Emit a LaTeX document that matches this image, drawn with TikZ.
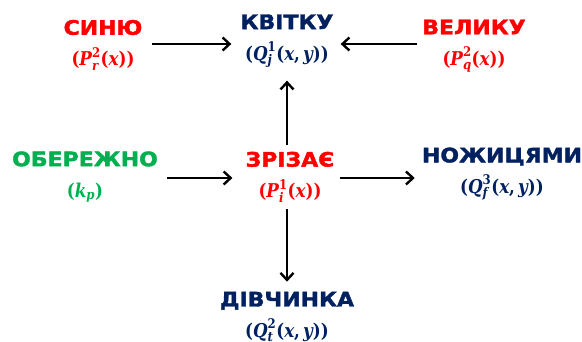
\documentclass[tikz,border=0pt]{standalone}
\usepackage{amsmath}
\usepackage[no-math]{fontspec}
\newfontfamily\wordfont[FakeStretch=1.1, BoldFeatures={FakeBold=1.8}]{DejaVu Sans}
\newfontfamily\mathserif[FakeStretch=0.88]{DejaVu Serif}
\usetikzlibrary{arrows.meta}
\definecolor{navy}{HTML}{002060}
\definecolor{gr}{HTML}{00B050}
\definecolor{rd}{HTML}{FF0000}
\newcommand{\myword}[1]{{\fontsize{20}{30}\selectfont\wordfont\bfseries #1}}
\newcommand{\mi}[1]{\text{\mathserif\bfseries\itshape #1}}
\newcommand{\mn}[1]{\text{\mathserif\bfseries #1}}
\newcommand{\myfm}[1]{{\fontsize{19}{20}\selectfont$#1$}}
\tikzset{
  lbl/.style={align=center, inner sep=7pt, font=\fontsize{20}{31}\selectfont},
  arr/.style={-{Straight Barb[length=7pt,width=13pt,line width=2.4pt]}, line width=2.7pt, black}
}
\begin{document}
\begin{tikzpicture}[x=1pt,y=-1pt]
\useasboundingbox (0,0) rectangle (582,342);
\node[lbl, text=rd] (sinyu) at (103,45) {\myword{СИНЮ}\\\myfm{\mn{(}\mi{P}^{\mn{2}}_{\mi{r}}\mn{(}\mi{x}\mn{))}}};
\node[lbl, text=navy] (kvitku) at (287,41) {\myword{КВІТКУ}\\\myfm{\mn{(}\mi{Q}^{\mn{1}}_{\mi{j}}\mn{(}\mi{x}\mn{,\,}\mi{y}\mn{))}}};
\node[lbl, text=rd] (velyku) at (474,46) {\myword{ВЕЛИКУ}\\\myfm{\mn{(}\mi{P}^{\mn{2}}_{\mi{q}}\mn{(}\mi{x}\mn{))}}};
\node[lbl, text=gr] (oberezhno) at (85,177) {\myword{ОБЕРЕЖНО}\\\myfm{\mn{(}\mi{k}_{\mi{p}}\mn{)}}};
\node[lbl, text=rd] (zrizaie) at (290,177) {\myword{ЗРІЗАЄ}\\\myfm{\mn{(}\mi{P}^{\mn{1}}_{\mi{i}}\mn{(}\mi{x}\mn{))}}};
\node[lbl, text=navy] (nozhytsiamy) at (502,174) {\myword{НОЖИЦЯМИ}\\\myfm{\mn{(}\mi{Q}^{\mn{3}}_{\mi{f}}\mn{(}\mi{x}\mn{,\,}\mi{y}\mn{))}}};
\node[lbl, text=navy] (divchynka) at (287,317) {\myword{ДІВЧИНКА}\\\myfm{\mn{(}\mi{Q}^{\mn{2}}_{\mi{t}}\mn{(}\mi{x}\mn{,\,}\mi{y}\mn{))}}};
\draw[arr, shorten <=2pt, shorten >=2pt] (sinyu.east |- 0,44) -- (kvitku.west |- 0,44);
\draw[arr, shorten <=-2pt] (velyku.west |- 0,44) -- (kvitku.east |- 0,44);
\draw[arr, shorten >=6pt] (zrizaie.north -| kvitku.south) -- (kvitku.south);
\draw[arr, shorten <=2pt, shorten >=6pt] (oberezhno.east |- 0,178) -- (zrizaie.west |- 0,178);
\draw[arr, shorten <=-2pt, shorten >=0pt] (zrizaie.east |- 0,178) -- (nozhytsiamy.west |- 0,178);
\draw[arr, shorten >=3pt] (zrizaie.south -| divchynka.north) -- (divchynka.north);
\end{tikzpicture}
\end{document}
